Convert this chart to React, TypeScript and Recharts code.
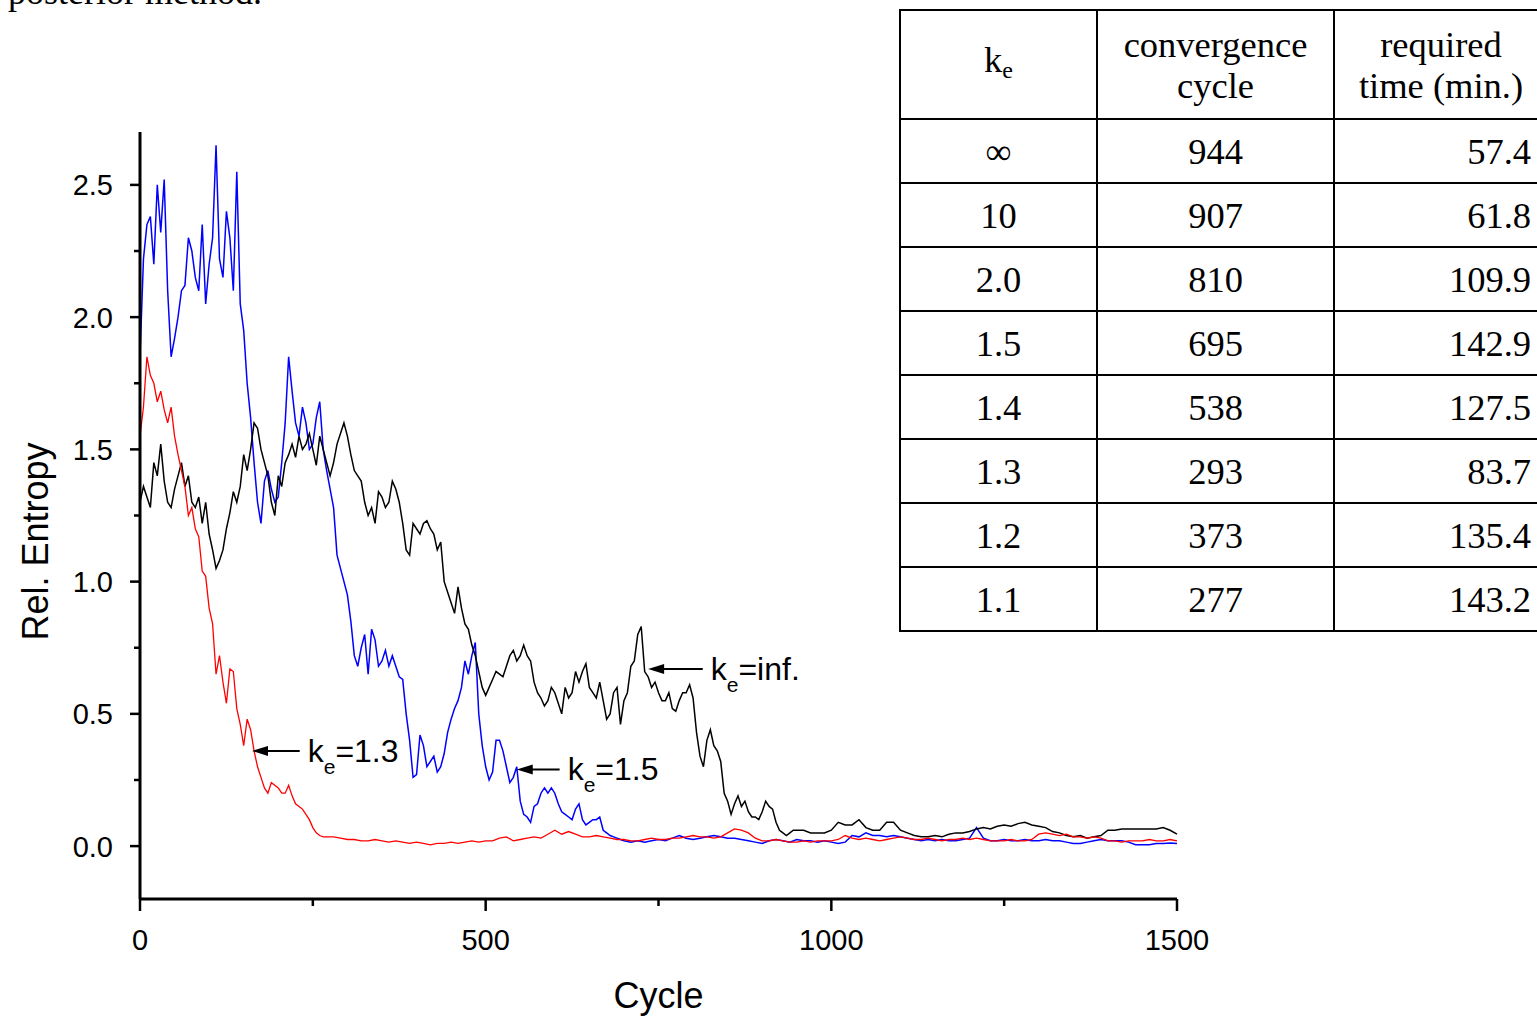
import React from 'react';
import { LineChart, Line, XAxis, YAxis, ReferenceLine, ReferenceDot } from 'recharts';

// cycle sampling grids
const grid = (from: number, to: number, step: number): number[] => {
  const out: number[] = [];
  for (let c = from; c <= to; c += step) out.push(c);
  return out;
};
const blueCycles: number[] = [...grid(0, 700, 5), ...grid(710, 1500, 10)];
const blackCycles: number[] = [...grid(0, 950, 5), ...grid(960, 1500, 10)];
const redCycles: number[] = [...grid(0, 270, 5), ...grid(280, 1500, 10)];

// k_e = 1.5 (blue)
const ke15: number[] = [
  1.85, 2.22, 2.35, 2.38, 2.20, 2.50, 2.32, 2.52, 2.10, 1.85,
  1.92, 2.00, 2.10, 2.12, 2.30, 2.25, 2.15, 2.10, 2.35, 2.05,
  2.20, 2.30, 2.65, 2.22, 2.15, 2.40, 2.30, 2.10, 2.55, 2.05,
  1.95, 1.75, 1.62, 1.45, 1.30, 1.22, 1.38, 1.42, 1.35, 1.30,
  1.32, 1.45, 1.60, 1.85, 1.72, 1.60, 1.55, 1.66, 1.60, 1.50,
  1.52, 1.62, 1.68, 1.50, 1.42, 1.35, 1.28, 1.10, 1.05, 1.00,
  0.95, 0.85, 0.72, 0.68, 0.75, 0.80, 0.65, 0.82, 0.78, 0.68,
  0.70, 0.74, 0.68, 0.72, 0.68, 0.64, 0.63, 0.50, 0.40, 0.26,
  0.27, 0.42, 0.38, 0.30, 0.32, 0.34, 0.28, 0.30, 0.35, 0.43,
  0.48, 0.52, 0.55, 0.60, 0.70, 0.65, 0.72, 0.77, 0.50, 0.38,
  0.30, 0.25, 0.28, 0.40, 0.40, 0.36, 0.30, 0.24, 0.26, 0.30,
  0.17, 0.12, 0.11, 0.09, 0.15, 0.16, 0.20, 0.22, 0.20, 0.22,
  0.20, 0.16, 0.13, 0.12, 0.11, 0.10, 0.14, 0.16, 0.10, 0.08,
  0.09, 0.10, 0.10, 0.11, 0.06, 0.05, 0.04, 0.035, 0.03, 0.025,
  0.02,
  0.015, 0.02, 0.015, 0.02, 0.025, 0.02, 0.03, 0.04, 0.03, 0.025,
  0.03, 0.035, 0.04, 0.035, 0.03, 0.03, 0.025, 0.02, 0.015, 0.01,
  0.02, 0.025, 0.02, 0.015, 0.025, 0.02, 0.02, 0.015, 0.02, 0.015,
  0.01, 0.015, 0.04, 0.035, 0.05, 0.04, 0.04, 0.035, 0.04, 0.035,
  0.03, 0.025, 0.02, 0.025, 0.02, 0.025, 0.02, 0.02, 0.025, 0.03,
  0.07, 0.03, 0.02, 0.02, 0.025, 0.02, 0.02, 0.025, 0.02, 0.02,
  0.025, 0.02, 0.02, 0.015, 0.01, 0.01, 0.015, 0.02, 0.025, 0.02,
  0.02, 0.02, 0.015, 0.005, 0.005, 0.005, 0.01, 0.01, 0.012, 0.01,
];

// k_e = inf. (black)
const keInf: number[] = [
  1.30, 1.36, 1.32, 1.28, 1.45, 1.40, 1.52, 1.38, 1.30, 1.28,
  1.35, 1.40, 1.45, 1.36, 1.40, 1.30, 1.28, 1.32, 1.22, 1.30,
  1.18, 1.12, 1.05, 1.08, 1.12, 1.20, 1.26, 1.34, 1.30, 1.36,
  1.48, 1.42, 1.50, 1.60, 1.58, 1.50, 1.45, 1.40, 1.30, 1.25,
  1.40, 1.36, 1.45, 1.48, 1.52, 1.47, 1.55, 1.50, 1.52, 1.56,
  1.50, 1.44, 1.55, 1.50, 1.45, 1.40, 1.45, 1.52, 1.56, 1.60,
  1.55, 1.48, 1.42, 1.40, 1.38, 1.30, 1.25, 1.28, 1.22, 1.34,
  1.32, 1.28, 1.30, 1.38, 1.35, 1.30, 1.22, 1.12, 1.10, 1.22,
  1.20, 1.18, 1.22, 1.23, 1.20, 1.18, 1.12, 1.15, 1.00, 0.96,
  0.92, 0.88, 0.98, 0.90, 0.84, 0.82, 0.76, 0.72, 0.66, 0.60,
  0.57, 0.60, 0.63, 0.66, 0.65, 0.64, 0.68, 0.72, 0.74, 0.70,
  0.72, 0.76, 0.72, 0.70, 0.62, 0.58, 0.56, 0.53, 0.55, 0.60,
  0.58, 0.54, 0.50, 0.60, 0.56, 0.58, 0.66, 0.62, 0.66, 0.69,
  0.60, 0.58, 0.56, 0.62, 0.55, 0.48, 0.50, 0.58, 0.60, 0.46,
  0.55, 0.58, 0.68, 0.70, 0.80, 0.83, 0.66, 0.64, 0.60, 0.62,
  0.58, 0.55, 0.55, 0.58, 0.52, 0.51, 0.55, 0.58, 0.58, 0.61,
  0.56, 0.43, 0.34, 0.30, 0.40, 0.44, 0.38, 0.36, 0.32, 0.20,
  0.17, 0.12, 0.16, 0.19, 0.15, 0.17, 0.13, 0.11, 0.11, 0.10,
  0.13, 0.17, 0.15, 0.14, 0.09, 0.06, 0.05, 0.04, 0.05, 0.06,
  0.06,
  0.06, 0.05, 0.05, 0.05, 0.06, 0.09, 0.08, 0.08, 0.10, 0.07,
  0.06, 0.06, 0.09, 0.09, 0.06, 0.05, 0.04, 0.035, 0.035, 0.04,
  0.035, 0.045, 0.05, 0.05, 0.055, 0.065, 0.07, 0.065, 0.075, 0.08,
  0.075, 0.085, 0.09, 0.08, 0.075, 0.07, 0.055, 0.05, 0.04, 0.035,
  0.04, 0.03, 0.035, 0.04, 0.06, 0.06, 0.065, 0.065, 0.065, 0.065,
  0.065, 0.065, 0.07, 0.06, 0.045,
];

// k_e = 1.3 (red)
const ke13: number[] = [
  1.55, 1.66, 1.85, 1.78, 1.75, 1.68, 1.72, 1.65, 1.60, 1.66,
  1.55, 1.48, 1.42, 1.36, 1.25, 1.28, 1.20, 1.17, 1.04, 1.02,
  0.90, 0.84, 0.65, 0.72, 0.62, 0.54, 0.67, 0.66, 0.52, 0.46,
  0.38, 0.48, 0.44, 0.36, 0.30, 0.26, 0.22, 0.20, 0.24, 0.23,
  0.22, 0.20, 0.20, 0.23, 0.19, 0.16, 0.15, 0.14, 0.12, 0.10,
  0.07, 0.05, 0.04, 0.035, 0.035,
  0.035, 0.03, 0.025, 0.025, 0.02, 0.02, 0.025, 0.02, 0.015, 0.02,
  0.015, 0.01, 0.015, 0.01, 0.005, 0.01, 0.01, 0.015, 0.01, 0.015,
  0.02, 0.015, 0.02, 0.02, 0.03, 0.035, 0.02, 0.025, 0.03, 0.035,
  0.03, 0.045, 0.06, 0.045, 0.055, 0.045, 0.035, 0.035, 0.04, 0.035,
  0.03, 0.025, 0.025, 0.02, 0.02, 0.025, 0.03, 0.025, 0.025, 0.03,
  0.03, 0.035, 0.04, 0.035, 0.035, 0.03, 0.035, 0.05, 0.065, 0.06,
  0.05, 0.03, 0.02, 0.02, 0.025, 0.02, 0.015, 0.015, 0.02, 0.015,
  0.02, 0.02, 0.02, 0.025, 0.04, 0.03, 0.025, 0.03, 0.025, 0.02,
  0.025, 0.03, 0.035, 0.03, 0.025, 0.025, 0.03, 0.025, 0.02, 0.025,
  0.025, 0.03, 0.025, 0.03, 0.025, 0.02, 0.02, 0.02, 0.025, 0.02,
  0.02, 0.025, 0.045, 0.05, 0.045, 0.04, 0.045, 0.035, 0.035, 0.03,
  0.035, 0.03, 0.02, 0.02, 0.015, 0.02, 0.02, 0.02, 0.025, 0.02,
  0.02, 0.025, 0.02,
];

const xTicks = [0, 250, 500, 750, 1000, 1250, 1500];
const yTicks = [0, 0.25, 0.5, 0.75, 1.0, 1.25, 1.5, 1.75, 2.0, 2.25, 2.5];

const annotations = [
  { label: '1.3', tip: 162, tail: 231, value: 0.36 },
  { label: '1.5', tip: 545, tail: 607, value: 0.29 },
  { label: 'inf.', tip: 735, tail: 814, value: 0.67 },
];

const tableKe = ['∞', '10', '2.0', '1.5', '1.4', '1.3', '1.2', '1.1'];
const tableCycle = ['944', '907', '810', '695', '538', '293', '373', '277'];
const tableTime = ['57.4', '61.8', '109.9', '142.9', '127.5', '83.7', '135.4', '143.2'];

const zip = (cs: number[], vs: number[]) => cs.map((c, i) => ({ cycle: c, value: vs[i] }));
const blueData = zip(blueCycles, ke15);
const blackData = zip(blackCycles, keInf);
const redData = zip(redCycles, ke13);

const SANS = '"Liberation Sans", Arial, sans-serif';
const SERIF = '"Liberation Serif", "Times New Roman", serif';

function XTick(props: any) {
  const { x, y, payload } = props;
  const major = payload.value % 500 === 0;
  return (
    <g>
      <line x1={x} x2={x} y1={y} y2={y + (major ? 12 : 7)} stroke="#000" strokeWidth={2.5} />
      {major && (
        <text x={x} y={y + 51} textAnchor="middle" fontSize={29} fontFamily={SANS} fill="#000">
          {payload.value}
        </text>
      )}
    </g>
  );
}

function YTick(props: any) {
  const { x, y, payload } = props;
  const v = payload.value;
  const major = Math.abs(v * 2 - Math.round(v * 2)) < 1e-6;
  return (
    <g>
      <line x1={x - (major ? 10 : 6)} x2={x} y1={y} y2={y} stroke="#000" strokeWidth={2.5} />
      {major && (
        <text x={x - 27} y={y} dy="0.36em" textAnchor="end" fontSize={29} fontFamily={SANS} fill="#000">
          {v.toFixed(1)}
        </text>
      )}
    </g>
  );
}

function YTitle(props: any) {
  const vb = props.viewBox ?? { x: 0, y: 132, width: 140, height: 767 };
  const cx = vb.x + 35;
  const cy = vb.y + vb.height / 2 + 26;
  return (
    <text
      x={cx}
      y={cy}
      dy="0.36em"
      textAnchor="middle"
      transform={`rotate(-90 ${cx} ${cy})`}
      fontSize={36}
      fontFamily={SANS}
      fill="#000"
    >
      Rel. Entropy
    </text>
  );
}

const arrowHead = (p: any) => (
  <polygon
    points={`${p.cx},${p.cy} ${p.cx + 16},${p.cy - 5} ${p.cx + 16},${p.cy + 5}`}
    fill="#000"
  />
);

const makeLabel = (label: string) => (p: any) => (
  <text x={p.cx + 8} y={p.cy + 11} fontSize={32} fontFamily={SANS} fill="#000">
    k
    <tspan dy={12} fontSize={21}>e</tspan>
    <tspan dy={-12}>={label}</tspan>
  </text>
);

const cellBase: React.CSSProperties = {
  border: '2px solid #000',
  padding: 0,
  fontFamily: SERIF,
  fontSize: 36.5,
  lineHeight: '41px',
  color: '#000',
};

export default function App() {
  return (
    <div
      style={{
        position: 'fixed',
        left: 0,
        top: 0,
        width: 1537,
        height: 1016,
        overflow: 'hidden',
        background: '#fff',
      }}
    >
      <svg width={600} height={30} style={{ position: 'absolute', left: 0, top: 0 }}>
        <text x={8} y={4} fontSize={36} fontFamily={SERIF} fill="#000">
          posterior method.
        </text>
      </svg>

      <div style={{ position: 'absolute', left: 0, top: 0 }}>
        <LineChart
          width={1537}
          height={1016}
          margin={{ top: 132, right: 360, bottom: 0, left: 0 }}
        >
          <XAxis
            dataKey="cycle"
            type="number"
            domain={[0, 1500]}
            ticks={xTicks}
            height={117}
            tickSize={0}
            tickMargin={0}
            tickLine={false}
            tick={<XTick />}
            axisLine={{ stroke: '#000', strokeWidth: 3 }}
            interval={0}
            allowDuplicatedCategory={false}
            label={{
              value: 'Cycle',
              position: 'insideBottom',
              offset: 8,
              fontSize: 36,
              fontFamily: SANS,
              fill: '#000',
            }}
          />
          <YAxis
            type="number"
            dataKey="value"
            domain={[-0.2, 2.7]}
            ticks={yTicks}
            width={140}
            tickSize={0}
            tickMargin={0}
            tickLine={false}
            tick={<YTick />}
            axisLine={{ stroke: '#000', strokeWidth: 3 }}
            interval={0}
            label={<YTitle />}
          />
          <Line
            data={blueData}
            dataKey="value"
            name="k_e=1.5"
            stroke="#0000ff"
            strokeWidth={1.5}
            dot={false}
            isAnimationActive={false}
            type="linear"
          />
          <Line
            data={blackData}
            dataKey="value"
            name="k_e=inf."
            stroke="#000000"
            strokeWidth={1.5}
            dot={false}
            isAnimationActive={false}
            type="linear"
          />
          <Line
            data={redData}
            dataKey="value"
            name="k_e=1.3"
            stroke="#ff0000"
            strokeWidth={1.3}
            dot={false}
            isAnimationActive={false}
            type="linear"
          />
          {annotations.map((a) => (
            <ReferenceLine
              key={'l' + a.label}
              segment={[
                { x: a.tip + 10, y: a.value },
                { x: a.tail, y: a.value },
              ]}
              stroke="#000"
              strokeWidth={2}
            />
          ))}
          {annotations.map((a) => (
            <ReferenceDot key={'h' + a.label} x={a.tip} y={a.value} r={0} shape={arrowHead} />
          ))}
          {annotations.map((a) => (
            <ReferenceDot key={'t' + a.label} x={a.tail} y={a.value} r={0} shape={makeLabel(a.label)} />
          ))}
        </LineChart>
      </div>

      <table
        style={{
          position: 'absolute',
          left: 899,
          top: 9,
          borderCollapse: 'collapse',
          tableLayout: 'fixed',
          width: 648,
        }}
      >
        <colgroup>
          <col style={{ width: 197 }} />
          <col style={{ width: 237 }} />
          <col style={{ width: 214 }} />
        </colgroup>
        <tbody>
          <tr style={{ height: 109 }}>
            <td style={{ ...cellBase, textAlign: 'center' }}>
              k<sub style={{ fontSize: 24, verticalAlign: '-6px' }}>e</sub>
            </td>
            <td style={{ ...cellBase, textAlign: 'center' }}>
              convergence
              <br />
              cycle
            </td>
            <td style={{ ...cellBase, textAlign: 'center' }}>
              required
              <br />
              time (min.)
            </td>
          </tr>
          {tableKe.map((k, i) => (
            <tr key={k} style={{ height: 64 }}>
              <td style={{ ...cellBase, textAlign: 'center' }}>{k}</td>
              <td style={{ ...cellBase, textAlign: 'center' }}>{tableCycle[i]}</td>
              <td style={{ ...cellBase, textAlign: 'right', paddingRight: 16 }}>{tableTime[i]}</td>
            </tr>
          ))}
        </tbody>
      </table>
    </div>
  );
}
